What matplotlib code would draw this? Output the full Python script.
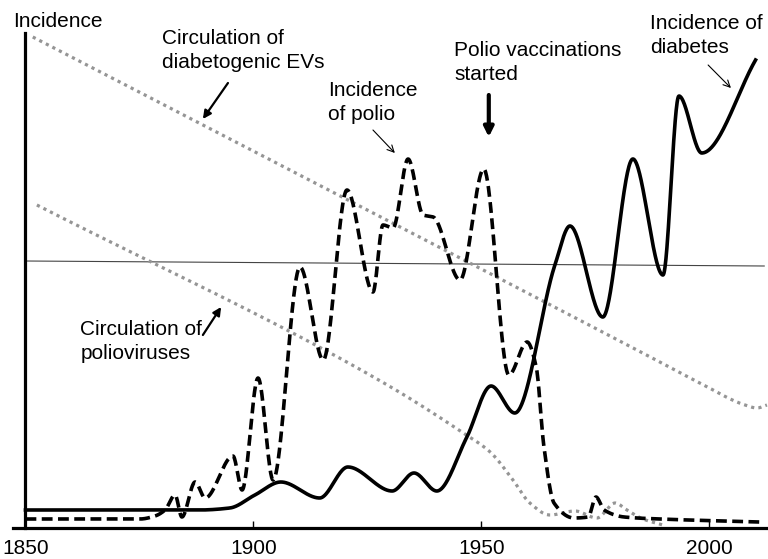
import matplotlib
matplotlib.use("Agg")
import matplotlib.pyplot as plt
import numpy as np

plt.rcParams["font.family"] = ["Liberation Sans", "DejaVu Sans"]
plt.rcParams["font.size"] = 15

# values (years, relative incidence)
diab_year = [1850, 1877, 1888, 1894.8, 1900.3, 1906.0, 1914.5, 1920.7, 1930.4, 1935.2,
             1940.2, 1946.8, 1952.1, 1957.3, 1966.1, 1969.4, 1976.6, 1983.2, 1989.8,
             1993.3, 1998.3, 2010.1]
diab_val = [18, 18, 18, 20, 33, 46, 30, 61, 37, 55, 37, 91, 142, 115, 263, 302, 211,
            369, 253, 432, 375, 468]

polio_year = [1850, 1875.1, 1878.4, 1880.6, 1882.8, 1884.3, 1887.2, 1889.4, 1895.5,
              1897.5, 1901.0, 1904.3, 1910.2, 1915.3, 1920.5, 1926.2, 1928.4, 1930.6,
              1933.9, 1937.2, 1939.4, 1945.3, 1950.5, 1956.0, 1960.0, 1962.0, 1963.7,
              1965.9, 1970.3, 1973.4, 1975.1, 1976.9, 1981.3, 1989.2, 2010.9]
polio_val = [9, 9, 12, 18, 33, 11, 46, 30, 72, 38, 150, 48, 261, 168, 338, 236, 303,
             300, 369, 313, 311, 248, 359, 153, 186, 161, 81, 25, 10, 11, 31, 18, 11,
             9, 6]

ev_year = [1851.6, 1984.1, 1997.9, 2007.8, 2010.4, 2012.6]
ev_val = [491, 178, 145, 123, 120, 123]

pv_year = [1852.5, 1928.6, 1946.0, 1951.9, 1956.9, 1960.6, 1965.0, 1970.5, 1975.3,
           1979.3, 1981.9, 1985.4, 1989.8]
pv_val = [323, 145, 95, 76, 48, 25, 13, 17, 10, 25, 18, 9, 3]

ref_year = [1850, 2012]
ref_val = [267, 262]


def smooth(xp, yp, n=600):
    # monotone cubic (pchip) through the read points, for drawing only
    x = np.asarray(xp, float)
    y = np.asarray(yp, float)
    h = np.diff(x)
    d = np.diff(y) / h
    m = np.zeros_like(y)
    m[0], m[-1] = d[0], d[-1]
    for k in range(1, len(x) - 1):
        if d[k - 1] * d[k] > 0:
            w1 = 2 * h[k] + h[k - 1]
            w2 = h[k] + 2 * h[k - 1]
            m[k] = (w1 + w2) / (w1 / d[k - 1] + w2 / d[k])
    xs = np.linspace(x[0], x[-1], n)
    i = np.clip(np.searchsorted(x, xs) - 1, 0, len(x) - 2)
    t = (xs - x[i]) / h[i]
    h00 = 2 * t**3 - 3 * t**2 + 1
    h10 = t**3 - 2 * t**2 + t
    h01 = -2 * t**3 + 3 * t**2
    h11 = t**3 - t**2
    ys = h00 * y[i] + h10 * h[i] * m[i] + h01 * y[i + 1] + h11 * h[i] * m[i + 1]
    return xs, ys


fig = plt.figure(figsize=(7.68, 5.59), dpi=100)
ax = fig.add_axes([13 / 768, 31 / 559, 755 / 768, 495 / 559])

ax.plot(ref_year, ref_val, color="#444444", lw=0.8, zorder=1)
ax.plot(*smooth(ev_year, ev_val), color="#959595", lw=2.3, ls=(0, (1, 1.3)), zorder=2)
ax.plot(*smooth(pv_year, pv_val), color="#959595", lw=2.3, ls=(0, (1, 1.3)), zorder=2)
ax.plot(*smooth(polio_year, polio_val, 1500), color="black", lw=2.6, ls=(0, (3.0, 1.5)), zorder=3)
ax.plot(*smooth(diab_year, diab_val, 1500), color="black", lw=2.6, zorder=4)

ax.set_xlim(1847.26, 2012.83)
ax.set_ylim(0, 495)
for s in ["top", "right"]:
    ax.spines[s].set_visible(False)
ax.spines["left"].set_position(("data", 1850))
ax.spines["left"].set_linewidth(2.3)
ax.spines["bottom"].set_linewidth(2.3)
ax.set_yticks([])
ax.set_xticks([1850, 1900, 1950, 2000])
ax.tick_params(axis="x", direction="in", length=5, width=1, pad=8, labelsize=15)

ls = 1.35
ax.text(1847.3, 501, "Incidence", ha="left", va="baseline", clip_on=False)
ax.text(1879.9, 499, "Circulation of\ndiabetogenic EVs", ha="left", va="top", linespacing=ls)
ax.text(1916.3, 447, "Incidence\nof polio", ha="left", va="top", linespacing=ls)
ax.text(1944.0, 487, "Polio vaccinations\nstarted", ha="left", va="top", linespacing=ls)
ax.text(1987.0, 514, "Incidence of\ndiabetes", ha="left", va="top", linespacing=ls,
        clip_on=False)
ax.text(1862.0, 208, "Circulation of\npolioviruses", ha="left", va="top", linespacing=ls)

ax.annotate("", xy=(1888.9, 409), xytext=(1894.4, 445),
            arrowprops=dict(arrowstyle="-|>", lw=1.6, color="black", mutation_scale=12,
                            shrinkA=0, shrinkB=0))
ax.annotate("", xy=(1892.9, 221), xytext=(1888.9, 193),
            arrowprops=dict(arrowstyle="-|>", lw=1.6, color="black", mutation_scale=12,
                            shrinkA=0, shrinkB=0))
ax.annotate("", xy=(1951.6, 391), xytext=(1951.6, 433),
            arrowprops=dict(arrowstyle="-|>", lw=3, color="black", mutation_scale=14,
                            shrinkA=0, shrinkB=0))
ax.annotate("", xy=(1931.0, 375), xytext=(1926.2, 398),
            arrowprops=dict(arrowstyle="->", lw=0.8, color="black", mutation_scale=12,
                            shrinkA=0, shrinkB=0))
ax.annotate("", xy=(2004.7, 440), xytext=(1999.7, 463),
            arrowprops=dict(arrowstyle="->", lw=0.8, color="black", mutation_scale=12,
                            shrinkA=0, shrinkB=0))

fig.savefig("out.png", dpi=100)
